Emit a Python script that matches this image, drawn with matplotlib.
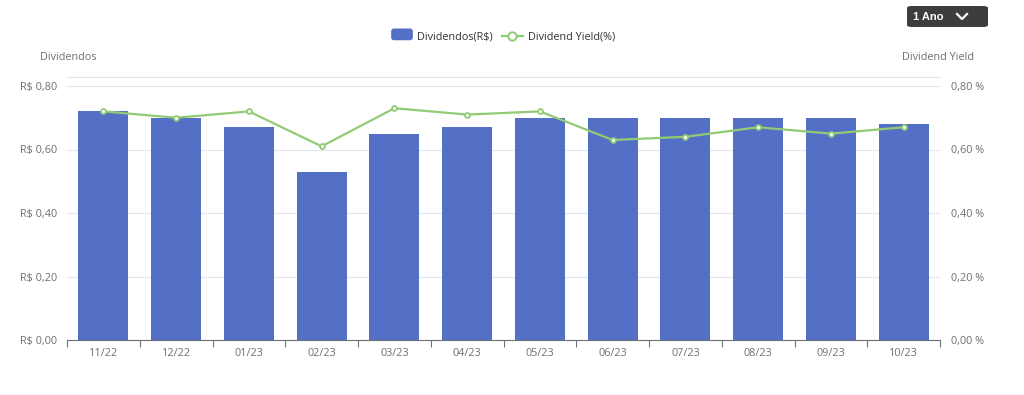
import numpy as np
import matplotlib.pyplot as plt
from matplotlib.patches import FancyBboxPatch
from matplotlib.lines import Line2D
from matplotlib.legend_handler import HandlerBase

meses = ["11/22", "12/22", "01/23", "02/23", "03/23", "04/23",
         "05/23", "06/23", "07/23", "08/23", "09/23", "10/23"]
dividendos = [0.72, 0.70, 0.67, 0.53, 0.65, 0.67, 0.70, 0.70, 0.70, 0.70, 0.70, 0.68]
dy = [0.72, 0.70, 0.72, 0.61, 0.73, 0.71, 0.72, 0.63, 0.64, 0.67, 0.65, 0.67]
yticks = [0.0, 0.2, 0.4, 0.6, 0.8]

azul = "#5470c6"
verde = "#91cc75"
cinza = "#6e7079"
grade = "#e0e6f1"
fs = 7.8

plt.rcParams['font.family'] = ['Open Sans', 'DejaVu Sans']

fig = plt.figure(figsize=(10.24, 3.95), dpi=100)
ax = fig.add_axes([67/1024, 55/395, 873/1024, 263/395])
ax2 = ax.twinx()

x = np.arange(len(meses))
ax.bar(x, dividendos, width=0.69, color=azul, zorder=2)
ax2.plot(x, dy, color=verde, lw=1.6, marker="o", ms=3.5, mfc="white",
         mec=verde, mew=1.3, zorder=3)

ytop = 0.8 * 263 / 254
for a in (ax, ax2):
    a.set_ylim(0, ytop)
    a.set_xlim(-0.5, len(meses) - 0.5)
    for s in a.spines.values():
        s.set_visible(False)
ax.set_yticks(yticks)
ax.set_yticklabels(["R$ " + f"{v:.2f}".replace(".", ",") for v in yticks])
ax2.set_yticks(yticks)
ax2.set_yticklabels([f"{v:.2f}".replace(".", ",") + " %" for v in yticks])
ax.tick_params(axis="y", length=0, labelsize=fs, labelcolor=cinza, pad=7)
ax2.tick_params(axis="y", length=0, labelsize=fs, labelcolor=cinza, pad=8)
ax.grid(axis="y", color=grade, lw=0.8, zorder=0)
ax.axhline(ytop, color=grade, lw=0.8, zorder=0, clip_on=False)

ax.spines["bottom"].set_visible(True)
ax.spines["bottom"].set_color(cinza)
ax.set_xticks(np.arange(-0.5, len(meses), 1.0))
ax.set_xticklabels([])
ax.set_xticks(x, minor=True)
ax.set_xticklabels(meses, minor=True)
ax.tick_params(axis="x", which="major", length=5, color=cinza, direction="out")
ax.tick_params(axis="x", which="minor", length=0, labelsize=fs, labelcolor=cinza, pad=6)

fig.text(40/1024, 1 - 58/395, "Dividendos", fontsize=fs, color=cinza, va="center")
fig.text(974/1024, 1 - 58/395, "Dividend Yield", fontsize=fs, color=cinza, va="center", ha="right")


class RoundBox(HandlerBase):
    def create_artists(self, legend, orig, xd, yd, w, h, fs, trans):
        p = FancyBboxPatch((xd, yd - 1), w, h + 2, boxstyle="round,pad=0,rounding_size=2",
                           fc=azul, ec="none", transform=trans)
        return [p]


h_bar = FancyBboxPatch((0, 0), 1, 1, fc=azul)
h_line = Line2D([], [], color=verde, lw=1.6, marker="o", ms=6, mfc="white", mec=verde, mew=1.4)
fig.legend([h_bar, h_line], ["Dividendos(R$)", "Dividend Yield(%)"],
           handler_map={FancyBboxPatch: RoundBox()},
           loc="center", bbox_to_anchor=(503/1024, 1 - 37/395), ncol=2, frameon=False,
           fontsize=fs, labelcolor="#333333", handlelength=2.0, handleheight=0.9,
           columnspacing=0.8, handletextpad=0.4)

# botão "1 Ano"
fig.patches.append(FancyBboxPatch((907/1024, 1 - 27/395), 81/1024, 21/395,
                                  boxstyle="round,pad=0,rounding_size=0.005",
                                  transform=fig.transFigure, fc="#3d3d3d", ec="none"))
fig.text(913/1024, 1 - 16.5/395, "1 Ano", fontsize=8, color="white",
         fontweight="bold", va="center", family=["Liberation Sans", "DejaVu Sans"])
fig.lines.append(Line2D([957/1024, 962/1024, 967/1024],
                        [1 - 14/395, 1 - 19/395, 1 - 14/395],
                        transform=fig.transFigure, color="white", lw=1.6))

fig.savefig("out.png", dpi=100, facecolor="white")
